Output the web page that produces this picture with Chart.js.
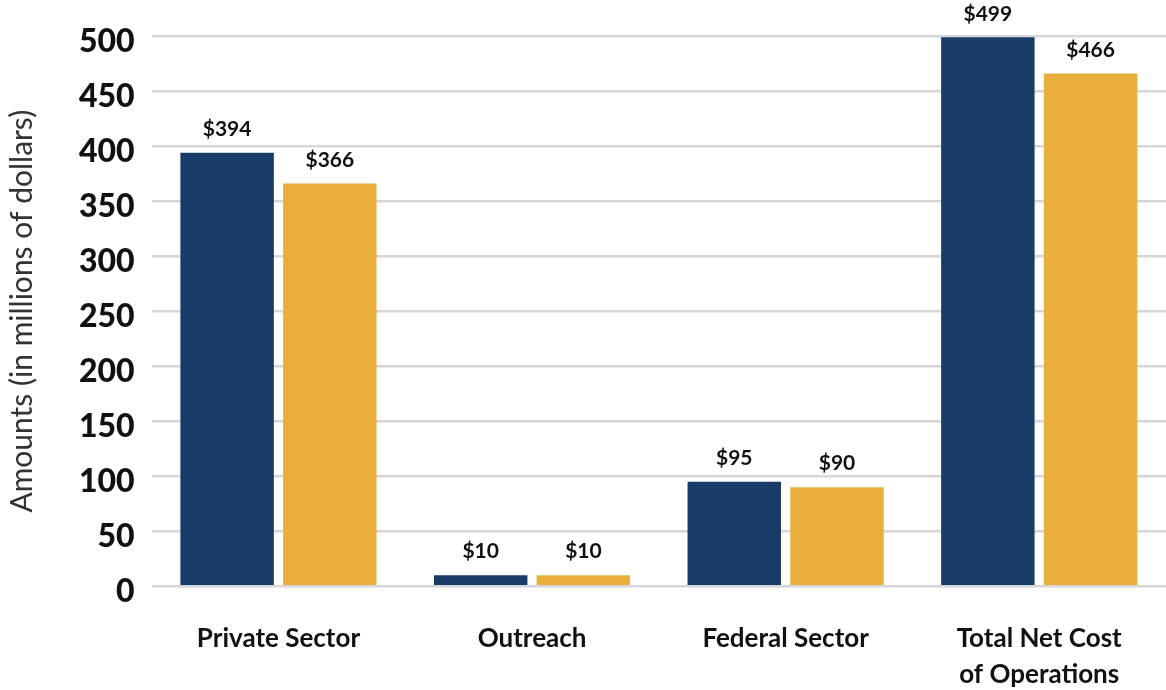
<!DOCTYPE html>
<html>
<head>
<meta charset="utf-8">
<script src="https://cdn.jsdelivr.net/npm/chart.js@4"></script>
<style>
  html, body { margin: 0; padding: 0; background: #fff; }
  #wrap { width: 1166px; height: 690px; }
</style>
</head>
<body>
<div id="wrap"><canvas id="costChart" width="1166" height="690"></canvas></div>
<script>
// categories and values (millions of dollars)
const categories = ["Private Sector", "Outreach", "Federal Sector", ["Total Net Cost", "of Operations"]];
const currentYear = [394, 10, 95, 499];
const priorYear = [366, 10, 90, 466];
const yTicks = [0, 50, 100, 150, 200, 250, 300, 350, 400, 450, 500];

const NAVY = "#193b67";
const GOLD = "#e8b03a";
const FONT = "Lato, 'Open Sans', sans-serif";

// draws "$value" above each bar
const barLabels = {
  id: "barLabels",
  afterDatasetsDraw(chart) {
    const ctx = chart.ctx;
    ctx.save();
    ctx.font = "bold 21px " + FONT;
    ctx.fillStyle = "#111";
    ctx.textAlign = "center";
    ctx.textBaseline = "bottom";
    chart.data.datasets.forEach((ds, i) => {
      chart.getDatasetMeta(i).data.forEach((bar, j) => {
        ctx.fillText("$" + ds.data[j], bar.x, bar.y - 13);
      });
    });
    ctx.restore();
  },
};

new Chart(document.getElementById("costChart").getContext("2d"), {
  type: "bar",
  data: {
    labels: categories,
    datasets: [
      { label: "Current", data: currentYear, backgroundColor: NAVY },
      { label: "Prior", data: priorYear, backgroundColor: GOLD },
    ],
  },
  options: {
    responsive: false,
    animation: false,
    layout: { padding: { top: 11, right: 0, left: 0, bottom: -29 } },
    datasets: { bar: { categoryPercentage: 0.81, barPercentage: 0.91 } },
    plugins: { legend: { display: false }, tooltip: { enabled: false } },
    scales: {
      x: {
        grid: { display: false },
        border: { display: false },
        ticks: {
          color: "#111",
          font: { family: FONT, size: 26, weight: "bold", lineHeight: 1.4 },
          padding: 26,
          maxRotation: 0,
        },
      },
      y: {
        min: 0,
        max: 500,
        afterBuildTicks(axis) {
          axis.ticks = yTicks.map((v) => ({ value: v }));
        },
        grid: { color: "#d6d6d8", lineWidth: 2.5, drawTicks: false },
        border: { display: false },
        ticks: {
          color: "#111",
          font: { family: FONT, size: 32, weight: "900" },
          padding: 17,
          labelOffset: 5,
        },
        title: {
          display: true,
          text: "Amounts (in millions of dollars)",
          color: "#333",
          font: { family: FONT, size: 30, lineHeight: 1.2 },
          padding: { top: 4, bottom: 22 },
        },
      },
    },
  },
  plugins: [barLabels],
});
</script>
</body>
</html>
